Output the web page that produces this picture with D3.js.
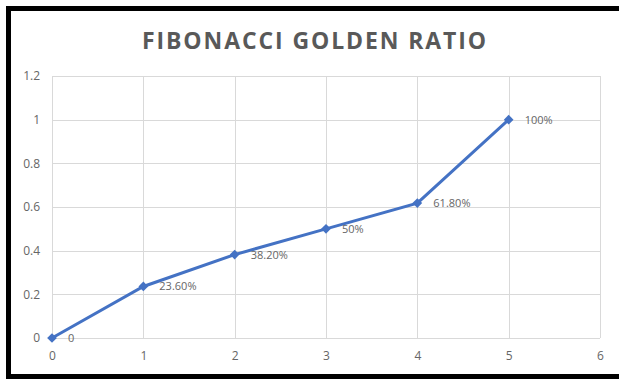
<!DOCTYPE html>
<html>
<head>
<meta charset="utf-8">
<script src="https://cdn.jsdelivr.net/npm/d3@7"></script>
<style>
  body { margin: 0; background: #fff; }
  svg { display: block; font-family: "Open Sans", "Liberation Sans", sans-serif; }
</style>
</head>
<body>
<svg id="chart" width="619" height="379"></svg>
<script>
// données
var xValues = [0, 1, 2, 3, 4, 5];
var yValues = [0, 0.236, 0.382, 0.5, 0.618, 1];
var pointLabels = ["0", "23.60%", "38.20%", "50%", "61.80%", "100%"];
var xTicks = [0, 1, 2, 3, 4, 5, 6];
var yTicks = [0, 0.2, 0.4, 0.6, 0.8, 1, 1.2];

var svg = d3.select("#chart");

// cadre noir
svg.append("rect")
  .attr("x", 8.5).attr("y", 8.5)
  .attr("width", 640).attr("height", 368)
  .attr("fill", "#fff")
  .attr("stroke", "#000")
  .attr("stroke-width", 5);

var margin = {left: 52, right: 600, top: 76, bottom: 338};

var xScale = d3.scaleLinear().domain([0, 6]).range([margin.left, margin.right]);
var yScale = d3.scaleLinear().domain([0, 1.2]).range([margin.bottom, margin.top]);

// titre
svg.append("text")
  .attr("x", 315).attr("y", 49)
  .attr("text-anchor", "middle")
  .style("font-size", "23px")
  .style("font-weight", "bold")
  .style("letter-spacing", "1.9px")
  .style("fill", "#595959")
  .text("FIBONACCI GOLDEN RATIO");

// grille
var grid = svg.append("g");
grid.selectAll("line.h").data(yTicks).enter().append("line")
  .attr("x1", margin.left).attr("x2", margin.right)
  .attr("y1", d => Math.round(yScale(d)) + 0.5)
  .attr("y2", d => Math.round(yScale(d)) + 0.5)
  .attr("stroke", "#d9d9d9");
grid.selectAll("line.v").data(xTicks).enter().append("line")
  .attr("y1", margin.top).attr("y2", margin.bottom)
  .attr("x1", d => Math.round(xScale(d)) + 0.5)
  .attr("x2", d => Math.round(xScale(d)) + 0.5)
  .attr("stroke", "#d9d9d9");

// axes
var xAxis = g => g
  .attr("transform", `translate(0, ${margin.bottom})`)
  .call(d3.axisBottom(xScale).tickValues(xTicks).tickSize(0).tickPadding(13).tickFormat(d3.format("d")))
  .call(g => g.select(".domain").remove());
var yAxis = g => g
  .attr("transform", `translate(${margin.left}, 0)`)
  .call(d3.axisLeft(yScale).tickValues(yTicks).tickSize(0).tickPadding(12).tickFormat(d => d === 0 ? "0" : d3.format("~g")(d)))
  .call(g => g.select(".domain").remove());

svg.append("g").call(xAxis);
svg.append("g").call(yAxis);
svg.selectAll(".tick text")
  .style("font-family", "'Open Sans', sans-serif")
  .style("font-size", "12px")
  .style("fill", "#666");

// ligne
var data = xValues.map((x, i) => ({x: x, y: yValues[i], label: pointLabels[i]}));
var line = d3.line().x(d => xScale(d.x)).y(d => yScale(d.y));

svg.append("path")
  .datum(data)
  .attr("d", line)
  .attr("fill", "none")
  .attr("stroke", "#4472C4")
  .attr("stroke-width", 3);

// marqueurs en losange
svg.selectAll("path.marker").data(data).enter().append("path")
  .attr("class", "marker")
  .attr("d", d3.symbol().type(d3.symbolDiamond2).size(60))
  .attr("transform", d => `translate(${xScale(d.x)}, ${yScale(d.y)})`)
  .attr("fill", "#4472C4");

// étiquettes des points
svg.selectAll("text.lbl").data(data).enter().append("text")
  .attr("class", "lbl")
  .attr("x", d => xScale(d.x) + 16)
  .attr("y", d => yScale(d.y) + 4)
  .style("font-size", "11px")
  .style("fill", "#666")
  .text(d => d.label);
</script>
</body>
</html>
